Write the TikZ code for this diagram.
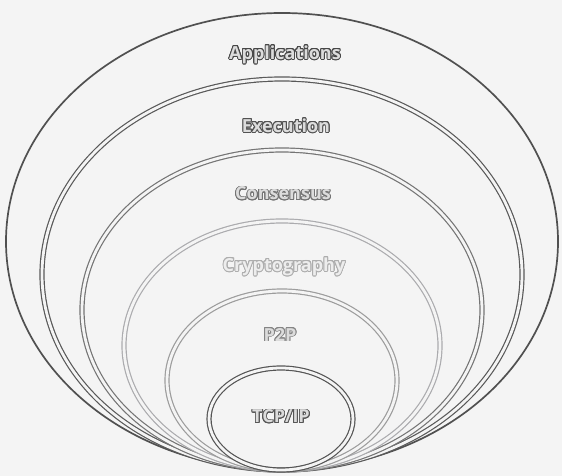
\documentclass[tikz,border=0pt]{standalone}
\usepackage{fontspec}
\setmainfont{Open Sans}
\usepackage{contour}
\contourlength{0.9pt}
\usetikzlibrary{shapes.geometric}
\definecolor{paper}{HTML}{F4F4F4}
\definecolor{ringA}{HTML}{505050}
\definecolor{ringE}{HTML}{595959}
\definecolor{ringC}{HTML}{747474}
\definecolor{ringY}{HTML}{ABABAE}
\definecolor{ringP}{HTML}{9C9C9C}
\definecolor{ringT}{HTML}{555555}
\definecolor{lineA}{HTML}{474747}
\definecolor{lineE}{HTML}{525252}
\definecolor{lineC}{HTML}{737373}
\definecolor{lineY}{HTML}{ADADAD}
\definecolor{lineP}{HTML}{858585}
\definecolor{lineT}{HTML}{575757}
\definecolor{lblfill}{HTML}{DCDCDC}
\definecolor{lblfillY}{HTML}{EDEDED}
\begin{document}
\begin{tikzpicture}[x=1pt,y=-1pt,
  ringbase/.style={ellipse, inner sep=0pt, outer sep=0pt},
  dring/.style={ringbase, draw=#1, line width=1.2pt, double=paper, double distance=2.8pt},
  lbl/.style={inner sep=0pt, font=\bfseries\fontsize{18}{20}\selectfont, text=lblfill}]
\fill[paper] (0,0) rectangle (562,476);
\useasboundingbox (0,0) rectangle (562,476);
% rings, all tangent at the bottom point (282,470)
\node[ringbase, draw=ringA, line width=1.7pt, minimum width=552pt, minimum height=457pt] (app) at (282,241.5) {};
\node[dring=ringE, minimum width=480pt, minimum height=391pt] (exe) at (282,274.5) {};
\node[dring=ringC, minimum width=400pt, minimum height=320pt] (con) at (282,310) {};
\node[dring=ringY, minimum width=316pt, minimum height=249pt] (cry) at (282,345.5) {};
\node[dring=ringP, minimum width=230pt, minimum height=179pt] (p2p) at (282,380.5) {};
\node[dring=ringT, minimum width=144pt, minimum height=102pt] (tcp) at (281,419) {};
% labels
\node[lbl] (tapp) at (285,55) {\contour{lineA}{Applications}};
\node[lbl] (texe) at (286,126) {\contour{lineE}{Execution}};
\node[lbl] (tcon) at (283,194) {\contour{lineC}{Consensus}};
\node[lbl, text=lblfillY] (tcry) at (284,267) {\contour{lineY}{Cryptography}};
\node[lbl] (tp2p) at (280,335) {\contour{lineP}{P2P}};
\node[lbl] (ttcp) at (281,417) {\contour{lineT}{TCP/IP}};
\end{tikzpicture}
\end{document}
